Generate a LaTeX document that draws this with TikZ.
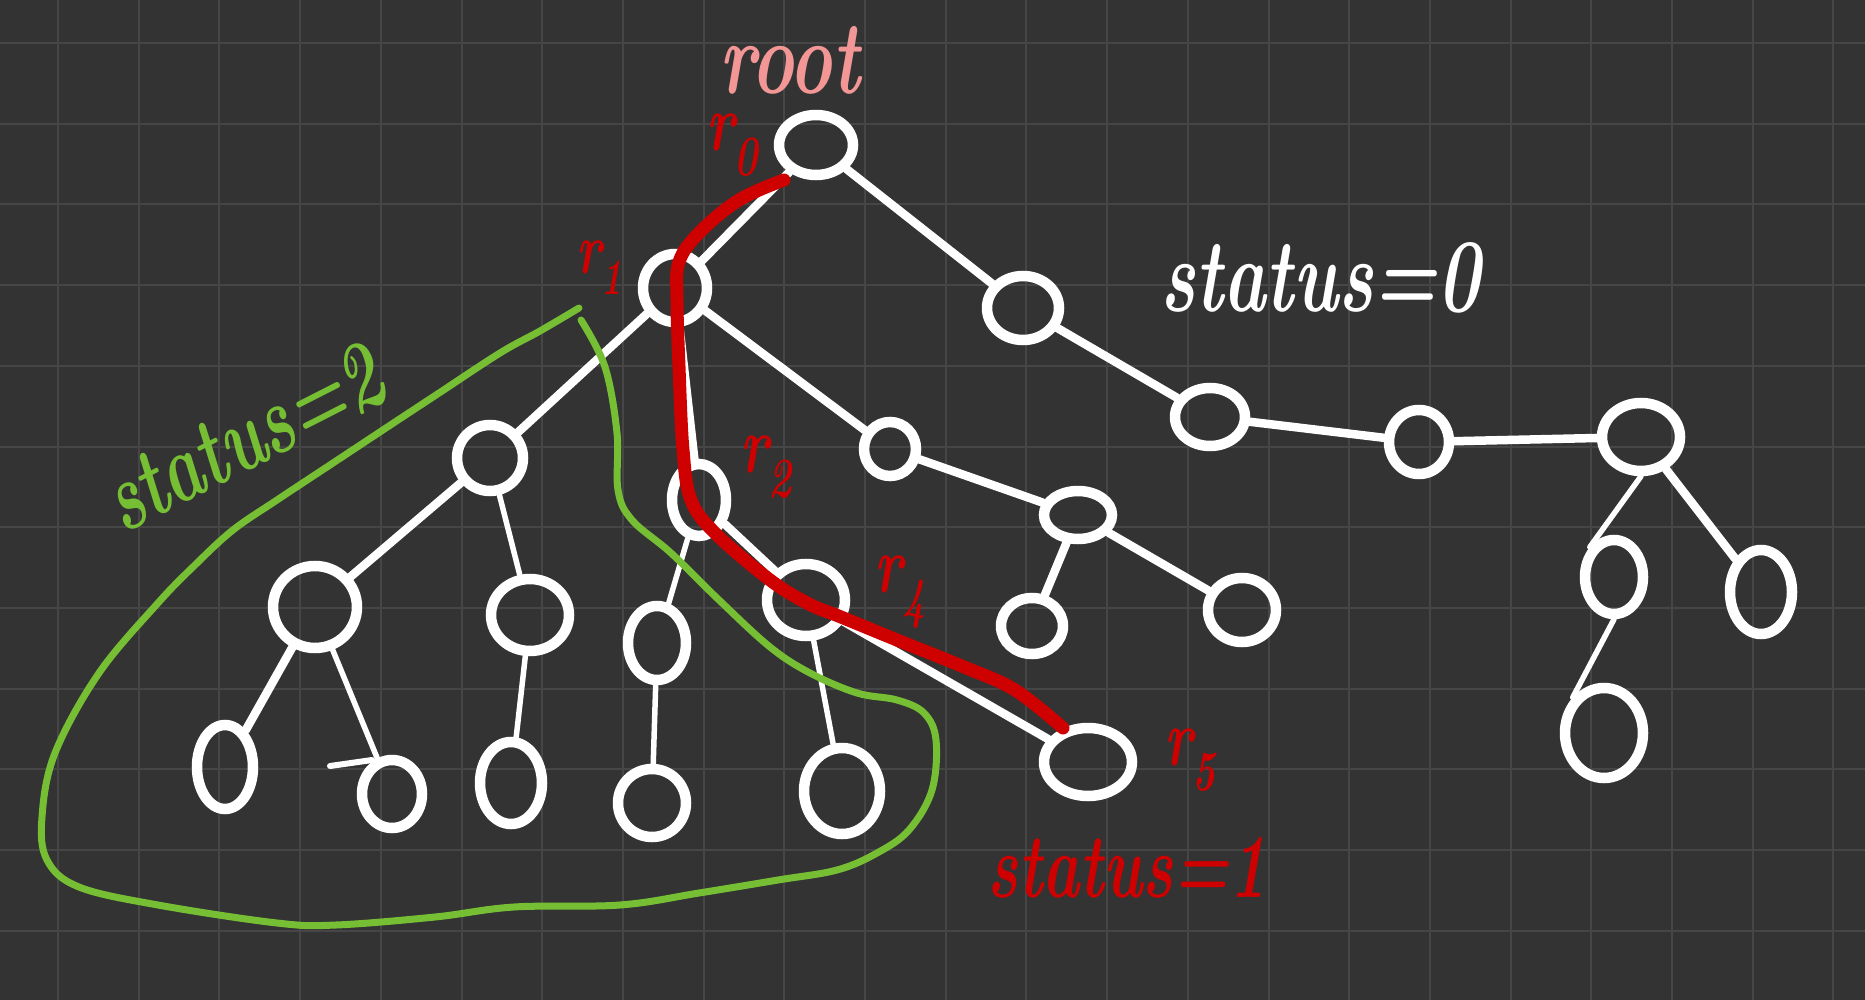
\documentclass[tikz,border=0pt]{standalone}
\usetikzlibrary{shapes.geometric}
\definecolor{bgc}{RGB}{51,51,51}
\definecolor{gridc}{RGB}{70,70,70}
\definecolor{redp}{RGB}{206,0,0}
\definecolor{greenp}{RGB}{118,190,52}
\definecolor{pinkp}{RGB}{243,150,150}
\newcommand{\hwtext}[2][1.45]{\scalebox{1}[#1]{#2}}
\begin{document}
\begin{tikzpicture}[x=1pt,y=-1pt,
  nd/.style={ellipse, draw=white, line width=10.5pt, inner sep=0pt},
  sz/.style 2 args={minimum width=#1pt, minimum height=#2pt},
  edge/.style={white, line width=8.5pt, line cap=round},
  thinedge/.style={white, line width=5.5pt, line cap=round},
  redpath/.style={redp, line width=13pt, line cap=round, line join=round},
  greenpath/.style={greenp, line width=7pt, line cap=round, line join=round},
  lbl/.style={inner sep=0pt}]

\fill[bgc] (0,0) rectangle (1865,1000);
\useasboundingbox (0,0) rectangle (1865,1000);
\foreach \k in {0,...,22} { \draw[gridc, line width=2pt] ({58+80.7*\k},0) -- ({58+80.7*\k},1000); }
\foreach \k in {0,...,11} { \draw[gridc, line width=2pt] (0,{43+80.7*\k}) -- (1865,{43+80.7*\k}); }

% nodes
\node[nd, sz={74}{60}] (root) at (816,145) {};
\node[nd, sz={64}{68}] (n1) at (675,288) {};
\node[nd, sz={72}{64}] (n2) at (1023,308) {};
\node[nd, sz={70}{58}] (n3) at (1210,417) {};
\node[nd, sz={60}{64}] (n4) at (1419,442) {};
\node[nd, sz={78}{68}] (n5) at (1641,437) {};
\node[nd, sz={58}{74}] (n6) at (1614,577) {};
\node[nd, sz={62}{84}] (n7) at (1761,592) {};
\node[nd, sz={78}{90}] (n8) at (1604,733) {};
\node[nd, sz={66}{66}] (a) at (490,458) {};
\node[nd, sz={54}{72}] (r2) at (699,500) {};
\node[nd, sz={52}{54}] (b) at (890,449) {};
\node[nd, sz={84}{82}] (c) at (315,607) {};
\node[nd, sz={78}{72}] (d) at (530,615) {};
\node[nd, sz={56}{84}] (e) at (225,767) {};
\node[nd, sz={60}{68}] (f) at (392,794) {};
\node[nd, sz={62}{82}] (g) at (511,783) {};
\node[nd, sz={58}{74}] (h) at (657,643) {};
\node[nd, sz={68}{68}] (i) at (652,803) {};
\node[nd, sz={78}{72}] (r4) at (806,600) {};
\node[nd, sz={76}{86}] (j) at (842,791) {};
\node[nd, sz={68}{48}] (k) at (1078,515) {};
\node[nd, sz={62}{56}] (l) at (1032,626) {};
\node[nd, sz={68}{64}] (m) at (1242,610) {};
\node[nd, sz={88}{68}] (r5) at (1088,762) {};

% white edges
\draw[edge] (root) -- (n1);
\draw[edge] (root) -- (n2);
\draw[edge] (n2) -- (n3);
\draw[edge] (n3) -- (n4);
\draw[edge] (n4) -- (n5);
\draw[thinedge] (n5.south) -- (n6.north west);
\draw[edge] (n5) -- (n7);
\draw[thinedge] (n6.south) -- (n8.north west);
\draw[edge] (n1) -- (a);
\draw[edge] (n1) -- (r2);
\draw[edge] (n1) -- (b);
\draw[edge] (b) -- (k);
\draw[edge] (k) -- (l);
\draw[edge] (k) -- (m);
\draw[edge] (a) -- (c);
\draw[thinedge] (a) -- (d);
\draw[edge] (c) -- (e);
\draw[thinedge] (c) -- (f);
\draw[thinedge] (d) -- (g);
\draw[thinedge] (r2) -- (h);
\draw[thinedge] (h) -- (i);
\draw[edge] (r2) -- (r4);
\draw[thinedge] (r4) -- (j);
\draw[edge] (r4) -- (r5);
\draw[white, line width=6pt, line cap=round] (330,766) -- (372,760);

% green enclosure
\draw[greenpath] plot[smooth, tension=0.6] coordinates {
 (579,308) (540,331) (500,353) (433,397) (395,422) (333,463) (277,500)
 (233,530) (195,565) (158,603)
 (99,673) (55,753) (42,817) (47,860) (79,887) (158,905) (277,923)
 (336,925) (435,917) (514,907) (620,905) (699,893) (778,880) (837,870)
 (877,853) (909,830) (932,790) (936,740) (924,713) (897,700) (857,693)
 (810,673) (770,647) (719,600) (671,553) (632,520) (618,490) (617,433)
 (605,367) (581,320)};

% red path
\draw[redpath] plot[smooth, tension=0.6] coordinates {
 (784,180) (739,200) (699,233) (679,262) (677,300) (679,367) (683,450)
 (691,500) (715,533) (770,580) (809,604) (841,617) (897,640) (964,667)
 (1015,690) (1063,728)};

% labels
\node[lbl, text=pinkp, font=\bfseries\itshape\fontsize{72}{72}\selectfont] (troot) at (790,60) {\hwtext{root}};
\node[lbl, text=redp, font=\bfseries\itshape\fontsize{56}{56}\selectfont] (tr0) at (732,145) {\hwtext{r\textsubscript{0}}};
\node[lbl, text=redp, font=\bfseries\itshape\fontsize{50}{50}\selectfont] (tr1) at (600,268) {\hwtext{r\textsubscript{1}}};
\node[lbl, text=redp, font=\bfseries\itshape\fontsize{56}{56}\selectfont] (tr2) at (766,467) {\hwtext{r\textsubscript{2}}};
\node[lbl, text=redp, font=\bfseries\itshape\fontsize{56}{56}\selectfont] (tr4) at (900,592) {\hwtext{r\textsubscript{4}}};
\node[lbl, text=redp, font=\bfseries\itshape\fontsize{56}{56}\selectfont] (tr5) at (1190,760) {\hwtext{r\textsubscript{5}}};
\node[lbl, text=white, font=\bfseries\itshape\fontsize{72}{72}\selectfont] (ts0) at (1320,278) {\hwtext{status=0}};
\node[lbl, text=greenp, rotate=27, font=\bfseries\itshape\fontsize{68}{68}\selectfont] (ts2) at (243,438) {\hwtext{status=2}};
\node[lbl, text=redp, font=\bfseries\itshape\fontsize{63}{63}\selectfont] (ts1) at (1127,868) {\hwtext{status=1}};
\end{tikzpicture}
\end{document}
